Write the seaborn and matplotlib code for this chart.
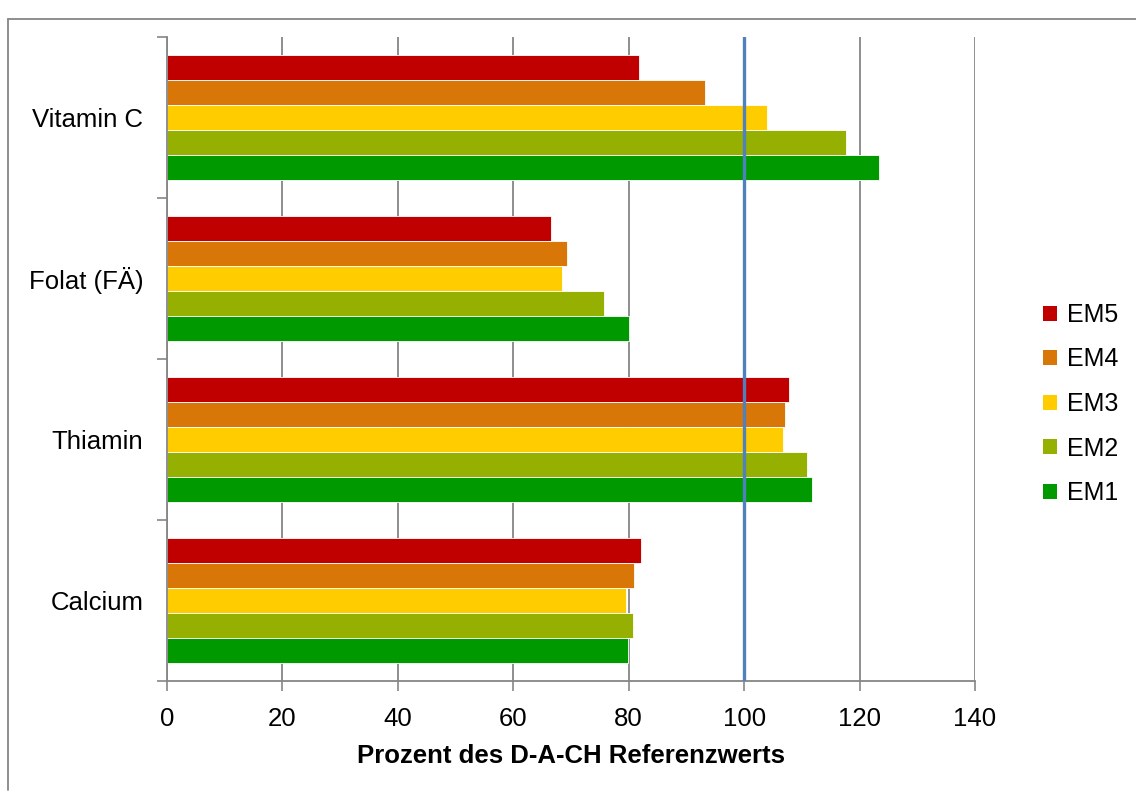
import matplotlib
matplotlib.use("Agg")
import matplotlib.pyplot as plt
import seaborn as sns
import pandas as pd
from matplotlib.patches import Patch
from matplotlib.lines import Line2D

categories = ["Vitamin C", "Folat (FÄ)", "Thiamin", "Calcium"]
series = ["EM5", "EM4", "EM3", "EM2", "EM1"]
em5 = [81.8, 66.5, 107.7, 82.2]
em4 = [93.3, 69.3, 107.0, 81.0]
em3 = [103.9, 68.4, 106.7, 79.5]
em2 = [117.7, 75.8, 110.9, 80.7]
em1 = [123.4, 80.0, 111.7, 79.8]
colors = ["#C00000", "#D87608", "#FFCC00", "#95B000", "#009A00"]
x_ticks = [0, 20, 40, 60, 80, 100, 120, 140]
ref_value = 100
xlabel = "Prozent des D-A-CH Referenzwerts"

rows = []
for name, vals in zip(series, [em5, em4, em3, em2, em1]):
    for c, v in zip(categories, vals):
        rows.append({"Kategorie": c, "Serie": name, "Wert": v})
df = pd.DataFrame(rows)

sns.set_style("white")
plt.rcParams["font.family"] = ["Liberation Sans", "DejaVu Sans"]
plt.rcParams["text.color"] = "black"
plt.rcParams["xtick.color"] = "black"
plt.rcParams["ytick.color"] = "black"
plt.rcParams["axes.labelcolor"] = "black"

FS = 18.5

fig = plt.figure(figsize=(11.36, 7.96), dpi=100)
ax = fig.add_axes([167/1136, 1 - 681/796, (975-167)/1136, (681-37)/796])

sns.barplot(data=df, y="Kategorie", x="Wert", hue="Serie", order=categories,
            hue_order=series, palette=colors, orient="h", width=0.78,
            ax=ax, legend=False, edgecolor="white", linewidth=0.6, saturation=1)

ax.set_xlim(0, 140)
ax.set_ylim(3.5, -0.5)
ax.set_xticks(x_ticks)
ax.set_xticklabels([str(t) for t in x_ticks], fontsize=FS)
ax.set_yticks(range(len(categories)))
ax.set_yticklabels(categories, fontsize=FS)
ax.set_yticks([i - 0.5 for i in range(len(categories) + 1)], minor=True)
ax.tick_params(axis="y", which="major", left=True, length=0, pad=17)
ax.tick_params(axis="y", which="minor", left=True, length=7, color="#868686", width=1.2, direction="out")
ax.tick_params(axis="x", which="major", bottom=True, length=7, color="#868686", width=1.2,
               direction="out", pad=12, labelcolor="black")
ax.set_ylabel("")
ax.set_xlabel(xlabel, fontsize=FS, fontweight="bold", labelpad=9, color="black")

ax.grid(axis="x", color="#868686", linewidth=1.3)
ax.set_axisbelow(True)
for s in ["top", "right"]:
    ax.spines[s].set_visible(False)
for s in ["left", "bottom"]:
    ax.spines[s].set_color("#868686")
    ax.spines[s].set_linewidth(1.3)

ax.axvline(ref_value, color="#4F81BD", linewidth=2.4, zorder=5)

handles = [Patch(facecolor=c, edgecolor="none") for c in colors]
fig.legend(handles, series, loc="center left", bbox_to_anchor=(1033/1136, 1 - 404/796),
           frameon=False, fontsize=18, handlelength=0.55, handleheight=0.55,
           handletextpad=0.4, labelspacing=0.82, borderaxespad=0)

fig.add_artist(Line2D([8/1136, 1], [1 - 19/796, 1 - 19/796], color="#868686", linewidth=1.3,
                      transform=fig.transFigure))
fig.add_artist(Line2D([8/1136, 8/1136], [1 - 19/796, 1 - 790/796], color="#868686", linewidth=1.3,
                      transform=fig.transFigure))

fig.savefig("out.png", dpi=100)
